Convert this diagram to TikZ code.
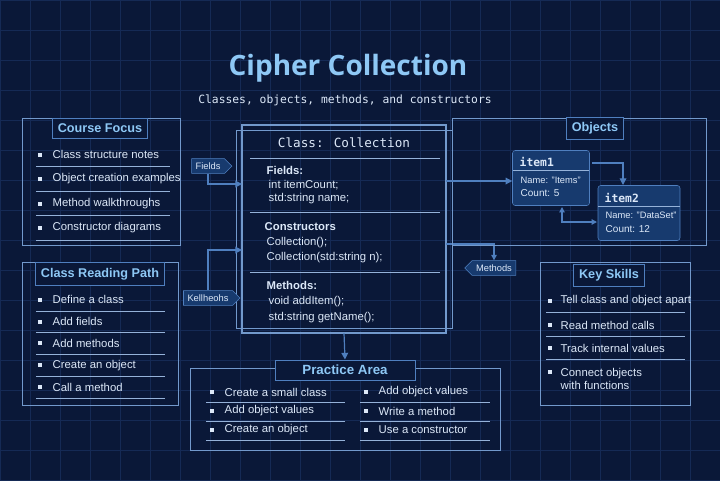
\documentclass[tikz,border=0pt]{standalone}
\usepackage{fontspec}
\setmainfont{Liberation Sans}
\newfontfamily\codefont{DejaVu Sans Mono}
\newfontfamily\headfont{Open Sans}
\usetikzlibrary{positioning,arrows.meta,shapes.symbols}
\definecolor{bgnavy}{HTML}{0A1838}
\definecolor{gridc}{HTML}{152A55}
\definecolor{lineb}{HTML}{4F7FBF}
\definecolor{titleb}{HTML}{8EC8F5}
\definecolor{textc}{HTML}{DCE8F8}
\definecolor{tagfill}{HTML}{173A6E}
\tikzset{
  panel/.style={draw=lineb!80, line width=0.6pt},
  ptitle/.style={draw=lineb, fill=bgnavy, text=titleb, font=\bfseries\fontsize{9.5}{12}\selectfont, inner sep=4pt},
  item/.style={anchor=west, text=textc, font=\fontsize{8.5}{10}\selectfont},
  code/.style={anchor=west, text=textc, font=\fontsize{8.5}{10}\selectfont},
  bul/.style={fill=textc, inner sep=0pt, minimum size=3pt},
  sep/.style={draw=lineb!60, line width=0.4pt},
  tag/.style={draw=lineb, fill=tagfill, text=textc, font=\fontsize{7}{9}\selectfont, inner sep=3pt},
  link/.style={draw=lineb, line width=0.9pt, -{Triangle[length=5pt,width=5pt]}}
}
\begin{document}
\begin{tikzpicture}[x=0.75pt,y=-0.75pt]
\fill[bgnavy] (0,0) rectangle (720,480);
\useasboundingbox (0,0) rectangle (720,480);
% faint grid
\foreach \gx in {0,30,...,720} \draw[gridc, line width=0.3pt] (\gx,0) -- (\gx,480);
\foreach \gy in {0,30,...,480} \draw[gridc, line width=0.3pt] (0,\gy) -- (720,\gy);

% heading
\node[text=titleb, font=\headfont\bfseries\fontsize{21}{26}\selectfont] (title) at (348,68) {Cipher Collection};
\node[text=textc, font=\codefont\fontsize{8.5}{11}\selectfont] (subtitle) at (345,100) {Classes, objects, methods, and constructors};

% course focus
\draw[panel] (22,118) rectangle (180,245);
\node[ptitle] (focus) at (100,128) {Course Focus};
\foreach \t [count=\i] in {Class structure notes, Object creation examples, Method walkthroughs, Constructor diagrams}{
  \node[bul] at (40,130+24.5*\i) {};
  \node[item] at (48,130+24.5*\i) {\t};
  \draw[sep] (36,142+24.5*\i) -- (170,142+24.5*\i);
}

% class reading path
\draw[panel] (22,262) rectangle (178,405);
\node[ptitle] (path) at (100,274) {Class Reading Path};
\foreach \t [count=\i] in {Define a class, Add fields, Add methods, Create an object, Call a method}{
  \node[bul] at (40,278+21.8*\i) {};
  \node[item] at (48,278+21.8*\i) {\t};
  \draw[sep] (36,289+21.8*\i) -- (165,289+21.8*\i);
}

% class box
\draw[panel, line width=1pt] (242,125) rectangle (446,333);
\draw[panel] (236,130) rectangle (452,328);
\node[text=textc, font=\codefont\fontsize{9.5}{12}\selectfont] (cname) at (344,143) {Class: Collection};
\draw[sep] (250,158) -- (440,158);
\draw[sep] (250,212) -- (440,212);
\draw[sep] (250,272) -- (440,272);
\node[item, font=\bfseries\fontsize{8.5}{10}\selectfont] (fields) at (262,170) {Fields:};
\node[code] at (264,185) {int itemCount;};
\node[code] at (264,199) {std:string name;};
\node[item, font=\bfseries\fontsize{8.5}{10}\selectfont] (ctors) at (260,227) {Constructors};
\node[item] at (262,243) {Collection();};
\node[item] at (262,258) {Collection(std:string n);};
\node[item, font=\bfseries\fontsize{8.5}{10}\selectfont] (meths) at (262,285) {Methods:};
\node[code] at (264,302) {void addItem();};
\node[code] at (264,318) {std:string getName();};

% tags
\node[tag, signal, signal to=east] (tfields) at (208,166) {Fields};
\node[tag, signal, signal to=east] (tkel) at (208,298) {Kellheohs};
\node[tag, signal, signal to=west] (tmeth) at (494,268) {Methods};
\coordinate (cf) at (242,184);
\coordinate (cc) at (242,250);
\coordinate (cm) at (446,244);
\coordinate (co) at (446,181);
\draw[link] (tfields.south) |- (cf);
\draw[link] (tkel.north) -- (208,250) -- (cc);
\draw[link, -{Triangle[length=4pt,width=4pt]}] (cm) -| (tmeth.north);

% objects
\draw[panel] (452,118) rectangle (706,245);
\node[ptitle] (objs) at (595,128) {Objects};
\node[draw=lineb, fill=tagfill, rounded corners=2pt, minimum width=77pt*0.75, minimum height=55pt*0.75] (item1) at (551,178) {};
\node[item, font=\codefont\bfseries\fontsize{8.5}{11}\selectfont] at (515,162) {item1};
\draw[sep] (513,170) -- (589,170);
\node[code, font=\fontsize{7}{8}\selectfont] at (516,180) {Name: "Items"};
\node[code, font=\fontsize{7.5}{8}\selectfont] at (516,193) {Count: 5};
\node[draw=lineb, fill=tagfill, rounded corners=2pt, minimum width=82pt*0.75, minimum height=55pt*0.75] (item2) at (639,213) {};
\node[item, font=\codefont\bfseries\fontsize{8.5}{11}\selectfont] at (600,198) {item2};
\draw[sep] (598,206) -- (680,206);
\node[code, font=\fontsize{7}{8}\selectfont] at (601,215) {Name: "DataSet"};
\node[code, font=\fontsize{7.5}{8}\selectfont] at (601,229) {Count: 12};
\coordinate (i1out) at (592,163);
\coordinate (i2in) at (623,185);
\coordinate (i1low) at (562,207);
\coordinate (i2side) at (597,222);
\draw[link] (co) -- (item1.west |- co);
\draw[link] (i1out) -| (i2in);
\draw[link, {Triangle[length=4pt,width=4pt]}-{Triangle[length=4pt,width=4pt]}] (i1low) |- (i2side);

% key skills
\draw[panel] (540,262) rectangle (690,405);
\node[ptitle] (skills) at (609,275) {Key Skills};
\foreach \t/\yy in {Tell class and object apart/301, Read method calls/325, Track internal values/348}{
  \node[bul] at (550,\yy) {};
  \node[item] at (556,\yy) {\t};
  \draw[sep] (546,\yy+11) -- (685,\yy+11);
}
\node[bul] at (550,372) {};
\node[item, align=left] at (556,379) {Connect objects\\with functions};

% practice area
\draw[panel] (190,368) rectangle (500,450);
\node[ptitle, font=\bfseries\fontsize{10}{12}\selectfont, minimum width=140pt*0.75] (practice) at (345,370) {Practice Area};
\draw[link] (344,333) -- (practice.north);
\foreach \t/\yy in {Create a small class/392, Add object values/411, Create an object/430}{
  \node[bul] at (212,\yy) {};
  \node[item] at (220,\yy) {\t};
  \draw[sep] (206,\yy+10) -- (345,\yy+10);
}
\foreach \t/\yy in {Add object values/392, Write a method/411, Use a constructor/430}{
  \node[bul] at (366,\yy) {};
  \node[item] at (374,\yy) {\t};
  \draw[sep] (360,\yy+10) -- (490,\yy+10);
}
\end{tikzpicture}
\end{document}
